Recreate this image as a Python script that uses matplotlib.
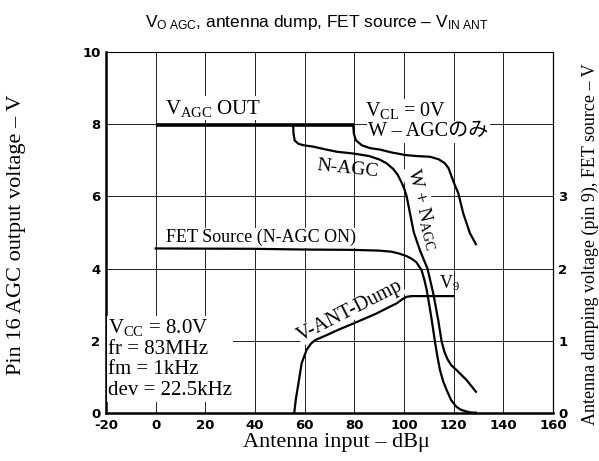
import matplotlib
matplotlib.use('Agg')
import matplotlib.pyplot as plt

# --- data (x: antenna input dBu) ---
agc_out_x = [0, 80]
agc_out_y = [7.97, 7.97]

# W-AGC only (VCL = 0V), left axis
wagc_x = [79.6, 79.8, 80.6, 83, 86.3, 90.3, 95, 100.4, 105, 110.5, 114, 116.5,
          118, 119.2, 120.6, 121.9, 123.9, 126.6, 129.0]
wagc_y = [7.97, 7.75, 7.56, 7.42, 7.34, 7.30, 7.22, 7.15, 7.12, 7.10, 7.03, 6.92,
          6.78, 6.55, 6.30, 6.09, 5.53, 4.98, 4.68]

# N-AGC / W + N AGC, left axis
nagc_x = [55.4, 55.5, 56.0, 57.5, 59.5, 63.5, 68, 72.9, 79.6, 86, 90.3, 93, 95.7,
          97.5, 99.1, 100.2, 101.1, 102.4, 104, 106.5, 109.5, 111.8, 113.8, 115.2,
          116.3, 117.5, 119, 121.2, 125.3, 129]
nagc_y = [7.97, 7.75, 7.55, 7.46, 7.42, 7.38, 7.31, 7.24, 7.19, 7.12, 7.02, 6.92, 6.76,
          6.60, 6.38, 6.20, 6.00, 5.55, 5.00, 4.50, 4.00, 3.32, 2.58, 1.98,
          1.70, 1.50, 1.33, 1.19, 0.91, 0.59]

# FET source (N-AGC ON), right axis
fet_x = [0, 40, 60, 80, 90, 95, 98, 101, 103, 105, 107.1, 108.2, 109.2, 110.2, 111.2,
         112.5, 113.5, 114.5, 115.8, 117.2, 119, 121.2, 123, 125.3, 127, 129]
fet_y = [2.28, 2.275, 2.265, 2.26, 2.25, 2.235, 2.21, 2.175, 2.14, 2.09, 1.98, 1.85,
         1.70, 1.50, 1.29, 0.99, 0.78, 0.60, 0.44, 0.32, 0.18, 0.085, 0.045, 0.02,
         0.008, 0.005]

# V-ANT-Dump (V9), right axis
vdump_x = [55.8, 56.5, 57.5, 58.8, 60.8, 62.5, 64.2, 68.9, 74, 79.6, 85, 89, 93,
           97.1, 99.5, 101.1, 103, 106.5, 120]
vdump_y = [0.0, 0.2, 0.41, 0.69, 0.875, 0.96, 1.01, 1.08, 1.16, 1.24, 1.32, 1.38,
           1.45, 1.52, 1.58, 1.61, 1.62, 1.62, 1.62]

x_ticks = [-20, 0, 20, 40, 60, 80, 100, 120, 140, 160]
y_ticks = [0, 2, 4, 6, 8, 10]
y2_ticks = [0, 1, 2, 3]

plt.rcParams['mathtext.fontset'] = 'custom'
plt.rcParams['mathtext.rm'] = 'Liberation Serif'
plt.rcParams['mathtext.it'] = 'Liberation Serif:italic'
plt.rcParams['mathtext.sf'] = 'Liberation Sans'

SERIF = ['Liberation Serif', 'Noto Sans CJK JP']
TICKF = dict(family='DejaVu Sans', weight='bold', size=9.5)

fig = plt.figure(figsize=(5.99, 4.61), dpi=100, facecolor='white')
ax = fig.add_axes([0.177, 0.104, 0.746, 0.783])
ax2 = ax.twinx()

ax.set_xlim(-20, 160)
ax.set_ylim(0, 10)
ax2.set_ylim(0, 5)

ax.set_xticks(x_ticks)
ax.set_yticks(y_ticks)
ax2.set_yticks(y2_ticks)
ax.set_xticklabels([str(v) for v in x_ticks], fontdict=TICKF)
ax.set_yticklabels([str(v) for v in y_ticks], fontdict=TICKF)
ax2.set_yticklabels([str(v) for v in y2_ticks], fontdict=TICKF)
ax.tick_params(length=0, pad=4)
ax2.tick_params(length=0, pad=4)

ax.grid(True, color='#222222', linewidth=0.7, zorder=0)
ax.set_axisbelow(True)

for s in ['left', 'bottom']:
    ax.spines[s].set_linewidth(1.8)
ax.spines['top'].set_linewidth(0.8)
ax.spines['right'].set_visible(False)
for s in ['left', 'bottom', 'top']:
    ax2.spines[s].set_visible(False)
ax2.spines['right'].set_linewidth(0.9)

# --- curves ---
ax.plot(agc_out_x, agc_out_y, color='black', linewidth=2.6, solid_capstyle='butt', zorder=4)
ax.plot(wagc_x, wagc_y, color='black', linewidth=1.6, zorder=4)
ax.plot(nagc_x, nagc_y, color='black', linewidth=1.6, zorder=4)
ax2.plot(fet_x, fet_y, color='black', linewidth=1.6, zorder=4)
ax2.plot(vdump_x, vdump_y, color='black', linewidth=1.6, zorder=4)

# --- annotations ---
wbg = dict(facecolor='white', edgecolor='none', pad=1)
ax.text(3.8, 8.15, r'V$_{\mathrm{AGC}}$ OUT', family=SERIF, fontsize=15,
        ha='left', va='bottom', bbox=wbg, zorder=3)
ax.text(84.5, 8.37, r'V$_{\mathrm{CL}}$ = 0V', family=SERIF, fontsize=14.5,
        ha='left', va='center', bbox=wbg, zorder=3)
ax.text(85.5, 7.79, 'W – AGCのみ', family=SERIF, fontsize=14.5,
        ha='left', va='center', bbox=wbg, zorder=3)
ax.text(77.5, 6.78, 'N-AGC', family=SERIF, fontsize=14, rotation=-6,
        ha='center', va='center', zorder=3)
ax.text(107.6, 5.65, r'W + N$_{\mathrm{AGC}}$', family=SERIF, fontsize=14,
        rotation=-76, ha='center', va='center', bbox=wbg, zorder=3)
ax.text(4, 4.62, 'FET Source (N-AGC ON)', family=SERIF, fontsize=13,
        ha='left', va='bottom', bbox=wbg, zorder=3)
ax.text(78.3, 2.83, 'V-ANT-Dump', family=SERIF, fontsize=14.5, rotation=27,
        ha='center', va='center', bbox=dict(facecolor='white', edgecolor='none', pad=0.3),
        zorder=3)
ax.text(118.5, 3.6, r'V$_{9}$', family=SERIF, fontsize=13,
        ha='center', va='center', zorder=3)
ax.text(-19.2, 2.66,
        'V$_{\\mathrm{CC}}$ = 8.0V\nfr = 83MHz\nfm = 1kHz\ndev = 22.5kHz',
        family=SERIF, fontsize=15, ha='left', va='top', linespacing=1.12,
        bbox=dict(facecolor='white', edgecolor='none', pad=1), zorder=3)

fig.text(0.528, 0.952,
         r'$\mathsf{V_{O\ AGC}}$, antenna dump, FET source – $\mathsf{V_{IN\ ANT}}$',
         family='Liberation Sans', fontsize=12.5, ha='center', va='center')
fig.text(0.561, 0.041, 'Antenna input – dBμ', family=SERIF, fontsize=16,
         ha='center', va='center')
fig.text(0.027, 0.49, 'Pin 16 AGC output voltage – V', family=SERIF, fontsize=16,
         rotation=90, ha='center', va='center')
fig.text(0.985, 0.47, 'Antenna damping voltage (pin 9), FET source – V', family=SERIF,
         fontsize=13, rotation=90, ha='center', va='center')

fig.savefig('out.png', dpi=100, facecolor='white')
